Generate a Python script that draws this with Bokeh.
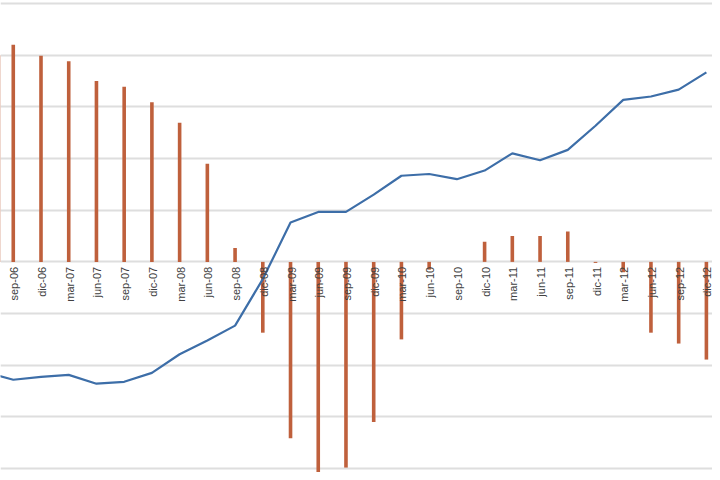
import math
from bokeh.plotting import figure
from bokeh.models import Range1d, Grid, FixedTicker, ColumnDataSource
from bokeh.core.properties import value
from bokeh.embed import file_html
from bokeh.resources import INLINE

# Quarterly categories (Spanish month abbreviations)
quarters = ["jun-06", "sep-06", "dic-06", "mar-07", "jun-07", "sep-07", "dic-07",
            "mar-08", "jun-08", "sep-08", "dic-08", "mar-09", "jun-09", "sep-09",
            "dic-09", "mar-10", "jun-10", "sep-10", "dic-10", "mar-11", "jun-11",
            "sep-11", "dic-11", "mar-12", "jun-12", "sep-12", "dic-12"]

# Bars (primary axis, %)
bar_values = [4.0, 4.20, 3.99, 3.88, 3.50, 3.39, 3.09, 2.69, 1.90, 0.27, -1.37,
              -3.41, -4.4, -3.98, -3.10, -1.50, -0.15, 0.0, 0.39, 0.50, 0.50,
              0.59, -0.02, -0.20, -1.37, -1.58, -1.89]

# Line (secondary axis, %)
line_values = [8.6, 8.16, 8.33, 8.44, 7.93, 8.04, 8.56, 9.64, 10.44, 11.30, 14.0,
               17.28, 17.90, 17.90, 18.90, 20.00, 20.10, 19.80, 20.30, 21.30,
               20.90, 21.50, 22.90, 24.40, 24.60, 25.00, 26.00]

grid_ticks = [-5, -4, -3, -2, -1, 0, 1, 2, 3, 4, 5]

idx = list(range(len(quarters)))

# view window (the reference is a crop of a larger chart)
x_lo, x_hi = 0.5393, 26.22
y_lo, y_hi = -4.075, 5.057

p = figure(width=712, height=472, output_backend="svg", toolbar_location=None,
           x_range=Range1d(x_lo, x_hi), y_range=Range1d(y_lo, y_hi),
           x_axis_type=None, y_axis_type=None, min_border=0)
p.outline_line_color = None
p.background_fill_color = "white"
p.border_fill_color = "white"

# secondary axis: 0..30 maps to primary -5..5
p.extra_y_ranges = {"sec": Range1d(15 + 3 * y_lo, 15 + 3 * y_hi)}

grid = Grid(dimension=1, ticker=FixedTicker(ticks=grid_ticks),
            grid_line_color="#dedede", grid_line_width=2)
p.add_layout(grid)

src = ColumnDataSource(dict(x=idx, bar=bar_values, line=line_values, lab=quarters))
lab_src = ColumnDataSource(dict(x=idx[1:], lab=quarters[1:]))

p.vbar(x="x", top="bar", bottom=0, width=0.13, source=src,
       fill_color="#bf603c", line_color=None)

p.line(x="x", y="line", source=src, y_range_name="sec",
       line_color="#3d6ea8", line_width=2.2)

p.text(x="x", y=0, text="lab", source=lab_src, angle=math.pi / 2,
       text_align="right", text_baseline="middle", y_offset=5, x_offset=1,
       text_font=value("Liberation Sans"), text_font_size="11px",
       text_color="#404040")

open("out.html", "w").write(file_html(p, INLINE))
